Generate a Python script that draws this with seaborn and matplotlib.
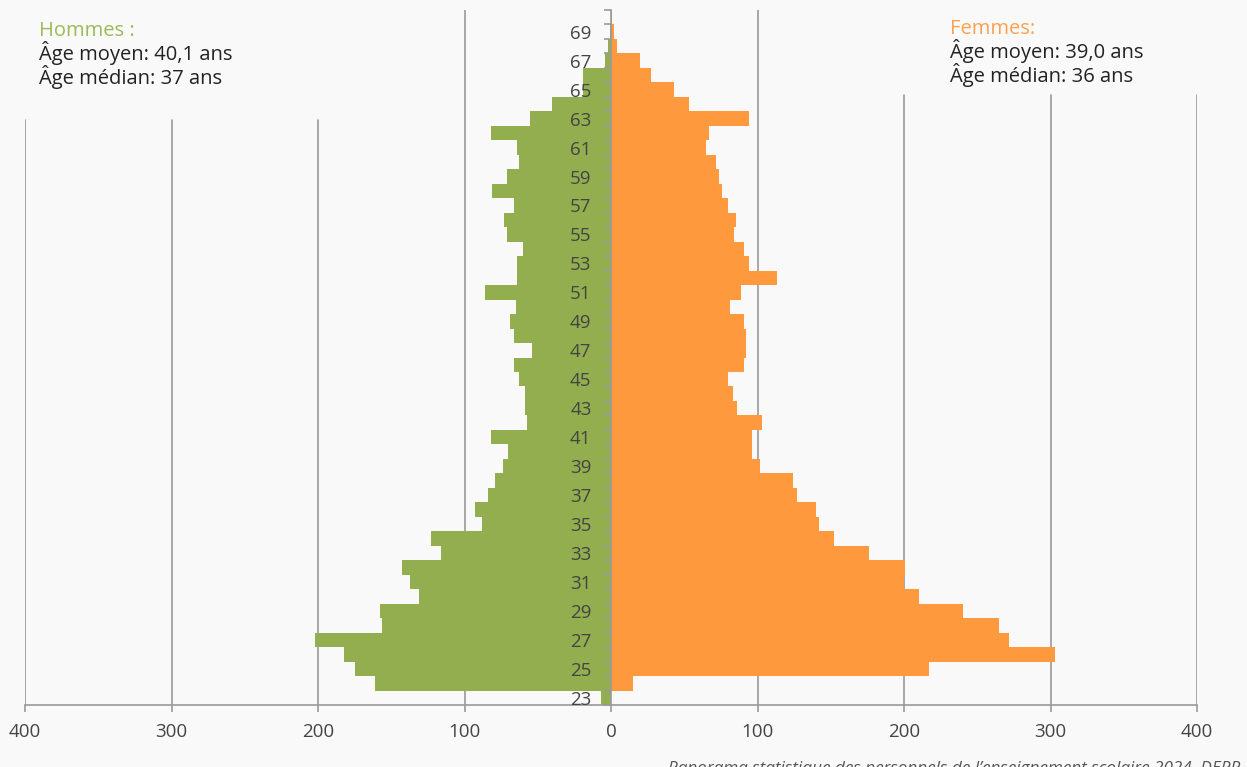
import numpy as np
import pandas as pd
import seaborn as sns
import matplotlib
matplotlib.use("Agg")
import matplotlib.pyplot as plt

ages = list(range(23, 71))
hommes = [7, 161, 175, 182, 202, 156, 158, 131, 137, 143, 116, 123, 88, 93, 84, 79,
          74, 70, 82, 57, 59, 59, 63, 66, 54, 66, 69, 65, 86, 64, 64, 60,
          71, 73, 66, 81, 71, 63, 64, 82, 55, 40, 19, 19, 4, 2, 1, 0]
femmes = [0, 15, 217, 303, 272, 265, 240, 210, 200, 201, 176, 152, 142, 140, 127, 124,
          102, 96, 96, 103, 86, 83, 80, 91, 92, 92, 91, 81, 89, 113, 94, 91,
          84, 85, 80, 76, 74, 72, 65, 67, 94, 53, 43, 27, 20, 4, 2, 1]
xticks = [-400, -300, -200, -100, 0, 100, 200, 300, 400]

bg = "#f9f9f9"
green = "#92ae4e"
orange = "#ff993d"
grid_c = "#9a9a9a"

df = pd.DataFrame({
    "age": [str(a) for a in ages] * 2,
    "valeur": [-v for v in hommes] + femmes,
    "sexe": ["Hommes"] * len(ages) + ["Femmes"] * len(ages),
})
order = [str(a) for a in ages[::-1]]

sns.set_theme(style="white")
plt.rcParams["font.family"] = ["Open Sans", "DejaVu Sans"]

fig = plt.figure(figsize=(12.47, 7.67), dpi=100, facecolor=bg)
ax = fig.add_axes([25 / 1247, 1 - 705 / 767, (1197 - 25) / 1247, 695 / 767])
ax.set_facecolor(bg)
ax.set_axisbelow(False)

sns.barplot(data=df, x="valeur", y="age", hue="sexe", order=order, orient="h",
            dodge=False, width=1.0, palette={"Hommes": green, "Femmes": orange},
            saturation=1, errorbar=None, linewidth=0, legend=False, ax=ax, zorder=2)

ax.set_xlim(-400, 400)
ax.set_ylim(len(order) - 0.5, -0.5)

# vertical gridlines (partially hidden behind the annotation areas)
for x in xticks:
    if x == 0:
        continue
    if abs(x) == 100:
        top = 1.0
    elif x < 0:
        top = (705 - 120) / 695
    else:
        top = (705 - 95) / 695
    ax.axvline(x, ymin=0, ymax=top, color=grid_c, lw=1.2, zorder=0.5)

for s in ["top", "right"]:
    ax.spines[s].set_visible(False)
ax.spines["left"].set_position(("data", 0))
ax.spines["left"].set_color(grid_c)
ax.spines["left"].set_linewidth(1.2)
ax.spines["left"].set_zorder(3)
ax.spines["bottom"].set_color(grid_c)
ax.spines["bottom"].set_linewidth(1.2)

ax.set_xticks(xticks)
ax.set_xticklabels([str(abs(x)) for x in xticks])
ax.tick_params(axis="x", bottom=True, length=5, width=1.2, color=grid_c,
               labelsize=13.5, labelcolor="#444444", pad=8)

ax.set_yticks(range(len(order)))
ax.set_yticklabels([a if int(a) % 2 == 1 else "" for a in order])
ax.set_yticks(np.arange(-0.5, len(order), 1), minor=True)
ax.tick_params(axis="y", which="major", left=True, length=0, pad=14,
               labelsize=13.5, labelcolor="#444444")
ax.tick_params(axis="y", which="minor", left=True, length=5, width=1.2, color=grid_c)
ax.set_xlabel("")
ax.set_ylabel("")

def line(x, ybase, s, color):
    fig.text(x / 1247, 1 - ybase / 767, s, color=color, fontsize=14.5,
             va="baseline", ha="left")

line(39, 36, "Hommes :", "#9bbb59")
line(39, 60, "Âge moyen: 40,1 ans", "#222222")
line(39, 84, "Âge médian: 37 ans", "#222222")
line(950, 34, "Femmes:", "#ffa04f")
line(950, 58, "Âge moyen: 39,0 ans", "#222222")
line(950, 82, "Âge médian: 36 ans", "#222222")

fig.text(1240 / 1247, 1 - 773 / 767,
         "Panorama statistique des personnels de l\u2019enseignement scolaire 2024, DEPP",
         color="#555555", fontsize=12.3, style="italic", ha="right", va="baseline")

fig.savefig("out.png", dpi=100, facecolor=bg)
